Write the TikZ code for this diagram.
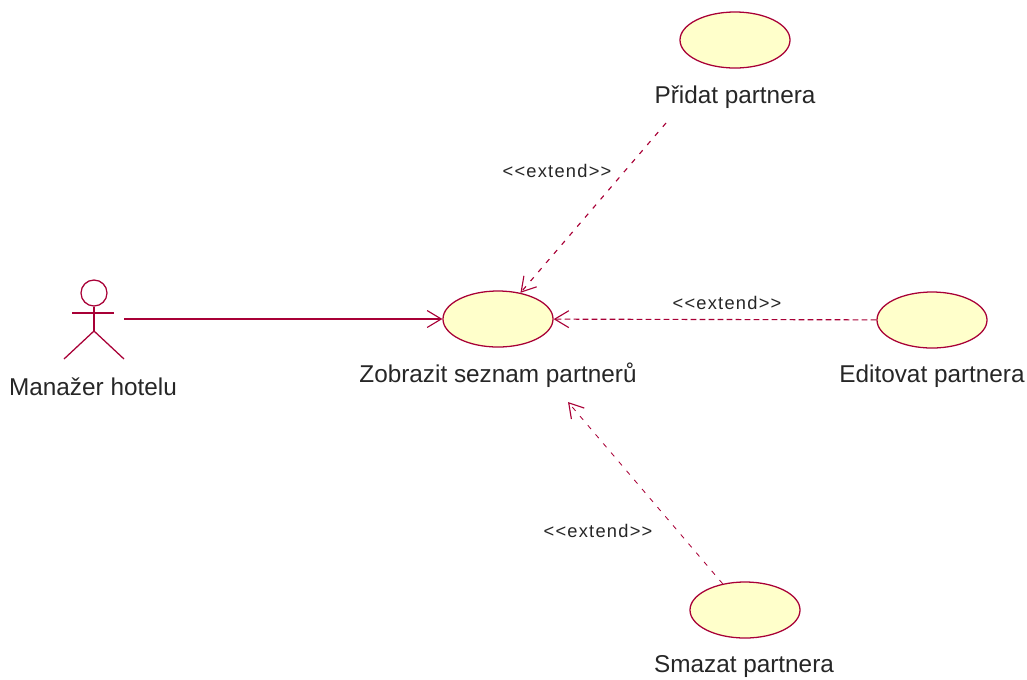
\documentclass[tikz,border=0pt]{standalone}
\usepackage{fontspec}
\setmainfont{Liberation Sans}
\newfontfamily\stereofont[LetterSpace=6.8]{Liberation Sans}
\usetikzlibrary{arrows.meta,shapes.geometric}
\definecolor{umlline}{HTML}{A80036}
\definecolor{umlfill}{HTML}{FFFFCB}
\begin{document}
\begin{tikzpicture}[x=0.025cm,y=-0.025cm,
    usecase/.style={ellipse,draw=umlline,fill=umlfill,line width=0.9pt,minimum width=2.75cm,minimum height=1.4cm,inner sep=0pt},
    jmeno/.style={font=\fontsize{17.3}{19}\selectfont,inner sep=0pt,text=black!85},
    stereotyp/.style={font=\stereofont\fontsize{13}{15}\selectfont,inner sep=0pt,text=black!85},
    barb/.style={-{Straight Barb[length=10pt,width=12pt,line width=0.8pt]},draw=umlline},
    extend/.style={barb,dash pattern=on 3.5pt off 5pt,line width=0.8pt},
    panacek/.style={umlline,line width=0.9pt}]
  \useasboundingbox (0,0) rectangle (1027,679);

  % use cases
  \node[usecase] (zobrazit) at (498,319) {};
  \node[usecase] (pridat)   at (735,40)  {};
  \node[usecase] (editovat) at (932,320) {};
  \node[usecase] (smazat)   at (745,610) {};

  \node[jmeno] (zobrazittext) at (498,375) {Zobrazit seznam partnerů};
  \node[jmeno] (pridattext)   at (735,97)  {Přidat partnera};
  \node[jmeno] (editovattext) at (932,376) {Editovat partnera};
  \node[jmeno] (smazattext)   at (744,667) {Smazat partnera};

  % actor
  \node[circle,panacek,draw,minimum size=0.65cm,inner sep=0pt] (hlava) at (94,293) {};
  \coordinate (trup) at (94,331);
  \coordinate (rukaL) at (72,313);
  \coordinate (rukaP) at (114,313);
  \coordinate (nohaL) at (64,359);
  \coordinate (nohaP) at (124,359);
  \draw[panacek] (hlava) -- (trup);
  \draw[panacek] (rukaL) -- (rukaP);
  \draw[panacek] (nohaL) -- (trup) -- (nohaP);
  \node[jmeno] (manazer) at (93,387) {Manažer hotelu};

  % connectors
  \coordinate (manazerend) at (124,319);
  \coordinate (pridatend) at (666,123);
  \coordinate (zobrazitend) at (568,402);
  \draw[barb,line width=1.1pt] (manazerend) -- (zobrazit);
  \draw[extend] (pridatend) -- (zobrazit);
  \draw[extend,dash pattern=on 4pt off 2.4pt] (editovat) -- (zobrazit);
  \draw[extend,line width=0.6pt] (smazat) -- (zobrazitend);

  \node[stereotyp] (ext1) at (557,171) {<{}<extend>{}>};
  \node[stereotyp] (ext2) at (727,303) {<{}<extend>{}>};
  \node[stereotyp] (ext3) at (598,531) {<{}<extend>{}>};
\end{tikzpicture}
\end{document}
